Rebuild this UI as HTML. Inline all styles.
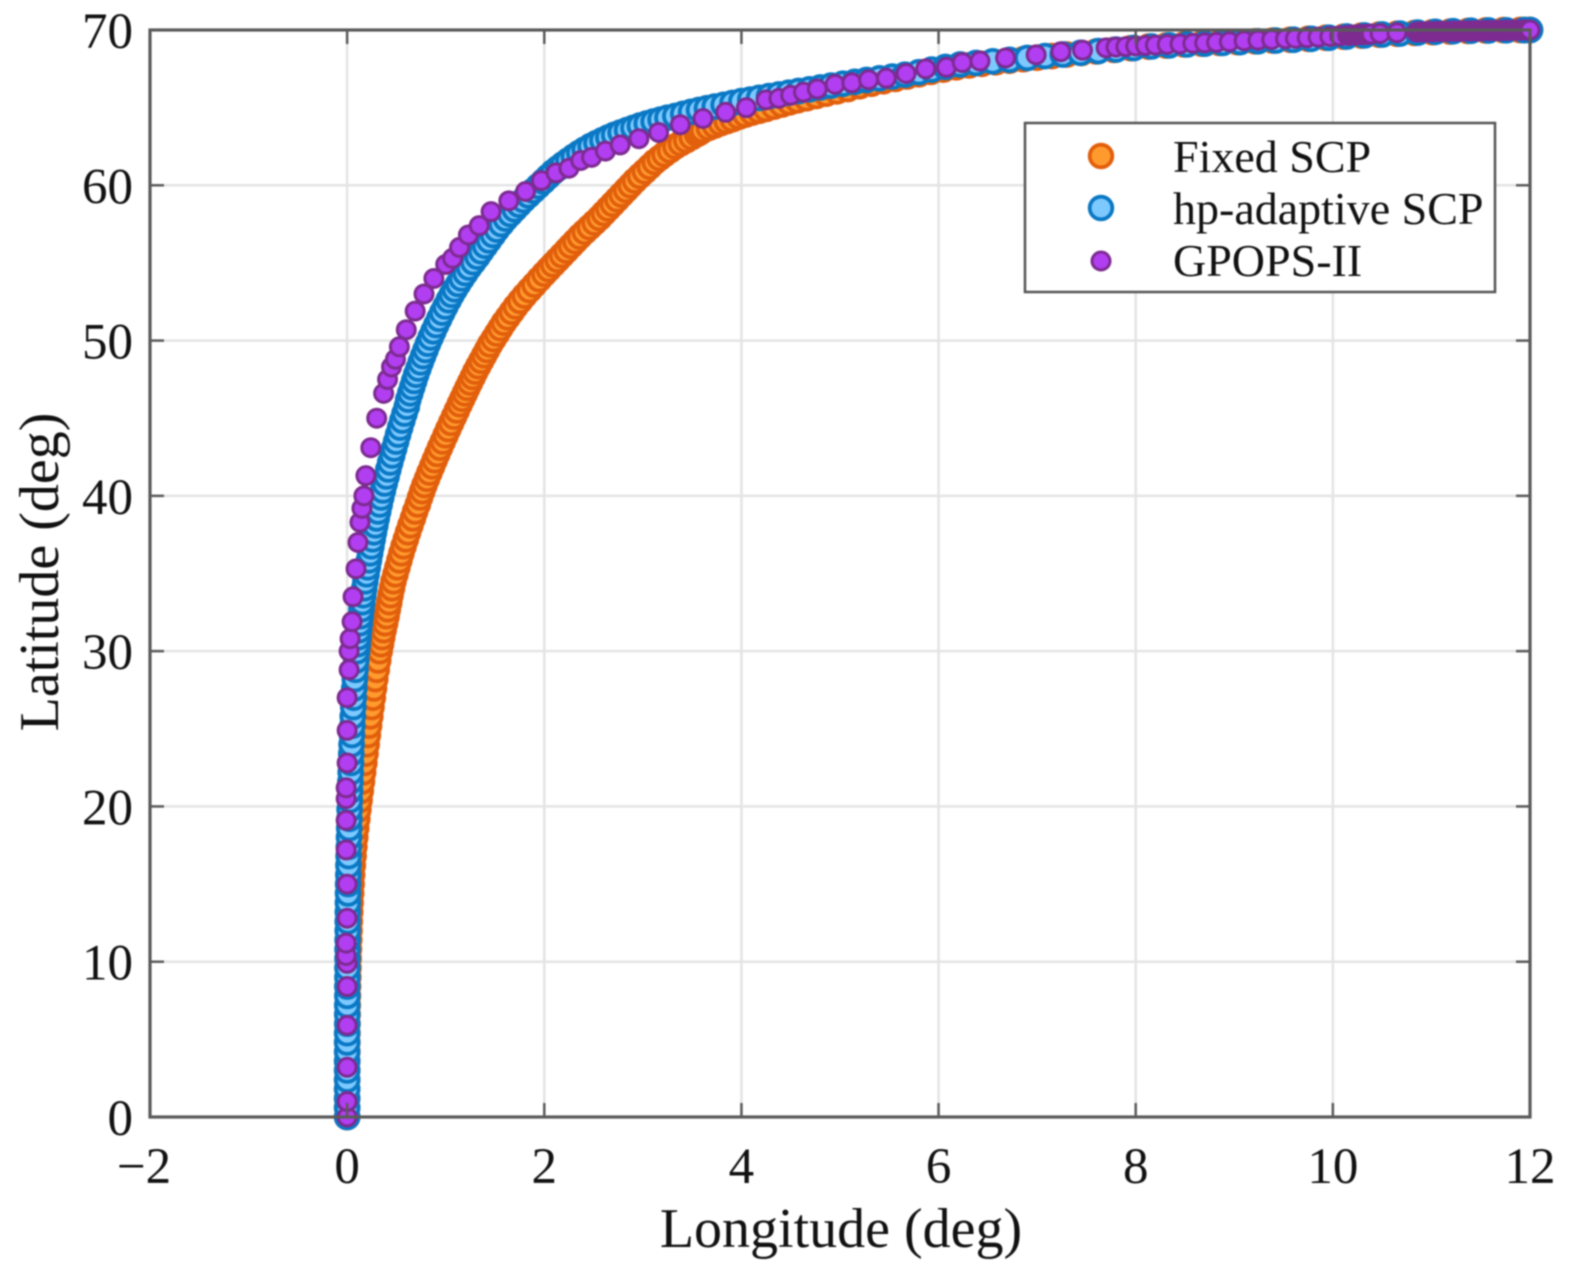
<!DOCTYPE html>
<html>
<head>
<meta charset="utf-8">
<title>Latitude vs Longitude</title>
<style>
html,body{margin:0;padding:0;background:#fff;width:1570px;height:1271px;overflow:hidden}
svg{display:block;filter:blur(0.7px)}
text{font-family:"Liberation Serif",serif;fill:#111}
</style>
</head>
<body>
<svg id="chart" xmlns="http://www.w3.org/2000/svg" width="1570" height="1271" viewBox="0 0 1570 1271">
<g id="grid"></g>
<g id="series"></g>
<g id="axes"></g>
<g id="legend">
<rect x="1025" y="123" width="470" height="169" fill="#fff" stroke="#555" stroke-width="2.5"/>
<circle cx="1101" cy="156" r="11.3" fill="#ff9a2e" stroke="#e25f0c" stroke-width="3.8"/>
<text x="1173" y="172" font-size="46">Fixed SCP</text>
<circle cx="1101" cy="208" r="11.3" fill="#7cc9ff" stroke="#0a78c4" stroke-width="3.8"/>
<text x="1173" y="224" font-size="46">hp-adaptive SCP</text>
<circle cx="1101" cy="261" r="9" fill="#b13ef0" stroke="#7d2b91" stroke-width="3"/>
<text x="1173" y="276" font-size="46">GPOPS-II</text>
</g>
</svg>
<script>
const xTickValues = [-2,0,2,4,6,8,10,12];
const yTickValues = [0,10,20,30,40,50,60,70];

const fixedLon = [0,0,0,0,0,.001,.001,.002,.002,.003,.004,.005,.006,.008,.009,.011,.013,.015,.018,.021,.024,.027,.031,.035,.04,.045,.05,.057,.065,.073,.082,.092,.103,.114,.126,.138,.15,.162,.174,.186,.198,.21,.222,.235,.247,.26,.272,.285,.30,.315,.33,.343,.356,.37,.385,.40,.413,.427,.44,.455,.47,.49,.51,.53,.55,.572,.595,.618,.642,.667,.69,.717,.74,.762,.785,.81,.835,.862,.888,.915,.942,.97,.998,1.026,1.055,1.084,1.113,1.142,1.168,1.194,1.22,1.247,1.274,1.30,1.33,1.36,1.39,1.42,1.45,1.485,1.52,1.555,1.59,1.63,1.67,1.71,1.755,1.80,1.85,1.90,1.95,2.0,2.045,2.09,2.135,2.18,2.225,2.27,2.315,2.36,2.41,2.46,2.51,2.56,2.605,2.65,2.695,2.74,2.785,2.83,2.875,2.92,2.97,3.02,3.07,3.12,3.17,3.22,3.275,3.33,3.385,3.44,3.495,3.55,3.58,3.61,3.67,3.73,3.79,3.85,3.91,3.975,4.04,4.11,4.18,4.25,4.33,4.41,4.49,4.57,4.66,4.76,4.86,4.97,5.08,5.2,5.32,5.44,5.56,5.68,5.8,5.92,6.05,6.18,6.31,6.44,6.58,6.72,6.86,7.0,7.15,7.3,7.45,7.6,7.78,7.95,8.13,8.31,8.49,8.67,8.85,9.03,9.21,9.39,9.57,9.75,9.93,10.11,10.29,10.47,10.65,10.83,11.01,11.19,11.37,11.55,11.73,11.9,11.95,12];
const fixedLat = [0,.6,1.2,1.8,2.4,3,3.6,4.2,4.8,5.4,6,6.6,7.2,7.8,8.4,9,9.6,10.2,10.8,11.4,12,12.6,13.2,13.8,14.4,15,15.6,16.2,16.8,17.4,18,18.6,19.2,19.8,20.4,21,21.6,22.2,22.8,23.4,24,24.6,25.2,25.8,26.4,27,27.6,28.2,28.8,29.4,30,30.45,30.9,31.35,31.8,32.25,32.7,33.15,33.6,34.05,34.5,34.95,35.4,35.85,36.3,36.75,37.2,37.65,38.1,38.55,39,39.45,39.9,40.3,40.7,41.1,41.5,41.9,42.3,42.7,43.1,43.5,43.9,44.3,44.7,45.1,45.5,45.9,46.25,46.6,46.95,47.3,47.65,48,48.35,48.7,49.05,49.4,49.75,50.1,50.45,50.8,51.15,51.5,51.85,52.2,52.55,52.9,53.25,53.6,53.95,54.3,54.6,54.9,55.2,55.5,55.8,56.1,56.4,56.7,57,57.3,57.6,57.9,58.2,58.5,58.8,59.1,59.4,59.7,60,60.3,60.6,60.9,61.2,61.5,61.75,62,62.25,62.5,62.7,62.9,63.1,63.3,63.4,63.55,63.7,63.85,64,64.13,64.26,64.42,64.55,64.68,64.8,64.92,65.06,65.2,65.34,65.47,65.6,65.75,65.9,66.05,66.2,66.38,66.54,66.7,66.85,67,67.15,67.3,67.45,67.6,67.72,67.82,67.92,68.02,68.12,68.22,68.32,68.42,68.52,68.62,68.72,68.83,68.93,69,69.07,69.12,69.17,69.22,69.27,69.32,69.37,69.43,69.5,69.57,69.64,69.7,69.76,69.81,69.86,69.9,69.94,69.97,69.99,70,70,70];

const hpLon = [0,0,0,0,0,0,0,0,0,0,.001,.001,.001,.002,.002,.003,.003,.004,.004,.005,.006,.006,.007,.008,.009,.01,.012,.013,.015,.017,.019,.021,.023,.025,.028,.03,.033,.036,.039,.042,.045,.049,.053,.057,.062,.067,.072,.078,.085,.092,.10,.107,.114,.121,.129,.137,.145,.154,.164,.174,.185,.197,.209,.221,.233,.246,.259,.272,.286,.30,.315,.33,.346,.363,.381,.40,.418,.437,.457,.477,.497,.517,.538,.56,.582,.605,.62,.64,.66,.68,.70,.723,.746,.77,.795,.82,.847,.875,.904,.934,.965,.997,1.03,1.06,1.092,1.127,1.162,1.2,1.238,1.28,1.322,1.36,1.40,1.44,1.48,1.52,1.565,1.61,1.655,1.70,1.745,1.79,1.84,1.89,1.94,1.99,2.04,2.09,2.14,2.19,2.245,2.30,2.355,2.41,2.47,2.53,2.59,2.65,2.71,2.775,2.84,2.905,2.97,3.04,3.11,3.18,3.25,3.33,3.41,3.49,3.57,3.65,3.73,3.82,3.91,4.0,4.09,4.18,4.28,4.38,4.48,4.58,4.69,4.8,4.91,5.03,5.15,5.27,5.4,5.53,5.66,5.8,5.93,6.07,6.22,6.38,6.55,6.72,6.9,7.08,7.26,7.44,7.62,7.8,7.98,8.16,8.34,8.52,8.7,8.88,9.06,9.24,9.42,9.6,9.78,9.96,10.14,10.32,10.5,10.68,10.86,11.04,11.22,11.4,11.58,11.76,11.94,12];
const hpLat = [0,.6,1.2,1.8,2.4,3,3.6,4.2,4.8,5.4,6,6.6,7.2,7.8,8.4,9,9.6,10.2,10.8,11.4,12,12.6,13.2,13.8,14.4,15,15.6,16.2,16.8,17.4,18,18.6,19.2,19.8,20.4,21,21.6,22.2,22.8,23.4,24,24.6,25.2,25.8,26.4,27,27.6,28.2,28.8,29.4,30,30.45,30.9,31.35,31.8,32.25,32.7,33.15,33.6,34.05,34.5,34.95,35.4,35.85,36.3,36.75,37.2,37.65,38.1,38.55,39,39.45,39.9,40.35,40.8,41.25,41.7,42.15,42.6,43.05,43.5,43.95,44.4,44.85,45.3,45.75,46.2,46.6,47,47.4,47.8,48.2,48.6,49,49.4,49.8,50.2,50.6,51,51.4,51.8,52.2,52.6,52.95,53.3,53.65,54,54.35,54.7,55.05,55.4,55.75,56.1,56.45,56.8,57.15,57.5,57.85,58.15,58.45,58.75,59.05,59.35,59.65,59.95,60.25,60.55,60.85,61.1,61.35,61.6,61.85,62.08,62.3,62.52,62.72,62.9,63.08,63.25,63.4,63.55,63.7,63.84,63.98,64.11,64.23,64.35,64.46,64.6,64.73,64.85,64.96,65.07,65.18,65.3,65.42,65.52,65.63,65.74,65.85,65.96,66.07,66.18,66.3,66.42,66.54,66.66,66.78,66.89,67,67.12,67.28,67.45,67.62,67.78,67.88,67.98,68.08,68.2,68.32,68.42,68.53,68.64,68.74,68.84,68.94,69.01,69.07,69.12,69.17,69.22,69.27,69.32,69.37,69.43,69.5,69.58,69.65,69.71,69.77,69.83,69.88,69.92,69.95,69.97,69.98,69.99,70,70];

const gpopsLon = [0,0,0,0,0,0,-.01,-.01,0,0,-.01,-.01,-.01,-.01,0,0,0,.02,.02,.03,.05,.06,.09,.11,.13,.15,.17,.19,.24,.30,.37,.41,.45,.49,.53,.60,.69,.78,.88,1.00,1.07,1.14,1.23,1.34,1.46,1.64,1.81,1.97,2.12,2.25,2.37,2.48,2.62,2.77,2.96,3.16,3.38,3.61,3.84,4.05,4.25,4.38,4.50,4.63,4.77,4.95,5.12,5.29,5.47,5.67,5.87,6.08,6.24,6.42,6.68,6.99,7.24,7.46,7.7,7.8,7.9,8.0,8.1,8.2,8.32,8.45,8.58,8.7,8.82,8.95,9.1,9.24,9.38,9.52,9.62,9.74,9.85,9.97,10.07,10.15,10.17,10.19,10.21,10.23,10.25,10.27,10.29,10.31,10.33,10.35,10.37,10.39,10.48,10.65,10.85,10.88,10.9,10.92,10.94,10.96,10.98,11,11.02,11.04,11.06,11.08,11.1,11.12,11.14,11.16,11.18,11.2,11.22,11.24,11.26,11.28,11.3,11.32,11.34,11.36,11.38,11.4,11.42,11.44,11.46,11.48,11.5,11.52,11.54,11.56,11.58,11.6,11.62,11.64,11.66,11.68,11.7,11.72,11.74,11.76,11.78,11.8,11.82,11.84,11.86,11.88,11.9,11.92,11.94,11.96,11.98,12];
const gpopsLat = [0,1.0,3.2,5.9,8.4,9.9,10.4,11.2,12.8,15.0,17.2,19.1,20.5,21.2,22.8,24.9,27.0,28.8,30.0,30.8,31.9,33.5,35.3,37.0,38.3,39.2,40.0,41.3,43.1,45.0,46.6,47.5,48.3,48.8,49.6,50.7,51.9,53.0,54.0,54.9,55.3,56.0,56.8,57.4,58.3,59.0,59.6,60.3,60.8,61.1,61.6,61.8,62.2,62.6,63.0,63.4,63.9,64.3,64.7,65.0,65.5,65.6,65.8,66.0,66.2,66.5,66.6,66.8,66.9,67.2,67.5,67.6,67.9,68.0,68.2,68.4,68.6,68.7,68.85,68.9,68.93,68.97,69.0,69.03,69.07,69.1,69.14,69.17,69.2,69.24,69.3,69.34,69.38,69.43,69.46,69.5,69.54,69.58,69.62,69.65,69.66,69.67,69.67,69.68,69.69,69.7,69.7,69.71,69.72,69.72,69.73,69.74,69.77,69.82,69.87,69.88,69.88,69.88,69.88,69.89,69.89,69.89,69.89,69.9,69.9,69.9,69.9,69.91,69.91,69.91,69.91,69.92,69.92,69.92,69.92,69.93,69.93,69.93,69.93,69.94,69.94,69.94,69.94,69.95,69.95,69.95,69.95,69.95,69.96,69.96,69.96,69.96,69.96,69.97,69.97,69.97,69.97,69.97,69.98,69.98,69.98,69.98,69.98,69.99,69.99,69.99,69.99,69.99,70,70,70,70];

const NS = "http://www.w3.org/2000/svg";
const plotLeft = 150, plotRight = 1530, plotTop = 30, plotBottom = 1117;
function xScale(v){ return plotLeft + (v + 2) / 14 * (plotRight - plotLeft); }
function yScale(v){ return plotBottom - v / 70 * (plotBottom - plotTop); }

function line(parent, x1, y1, x2, y2, color, width){
  const el = document.createElementNS(NS, "line");
  el.setAttribute("x1", x1); el.setAttribute("y1", y1);
  el.setAttribute("x2", x2); el.setAttribute("y2", y2);
  el.setAttribute("stroke", color); el.setAttribute("stroke-width", width);
  parent.appendChild(el);
  return el;
}
function label(parent, x, y, str, anchor, size){
  const el = document.createElementNS(NS, "text");
  el.setAttribute("x", x); el.setAttribute("y", y);
  el.setAttribute("text-anchor", anchor); el.setAttribute("font-size", size);
  el.textContent = str;
  parent.appendChild(el);
  return el;
}

const gridG = document.getElementById("grid");
const axesG = document.getElementById("axes");
const seriesG = document.getElementById("series");
const gridColor = "#e4e4e4", axisColor = "#5a5a5a";

xTickValues.forEach(function(v){
  const x = xScale(v);
  const g = line(gridG, x, plotTop, x, plotBottom, gridColor, 2.5);
  
  
  const t1 = line(axesG, x, plotBottom, x, plotBottom - 14, axisColor, 2.5);
  
  
  const t2 = line(axesG, x, plotTop, x, plotTop + 14, axisColor, 2.5);
  
  
  const tl = label(axesG, v < 0 ? x - 6 : x, 1183, String(v).replace("-", "\u2212"), "middle", 51);
  
  
});
yTickValues.forEach(function(v){
  const y = yScale(v);
  const g = line(gridG, plotLeft, y, plotRight, y, gridColor, 2.5);
  
  
  const t1 = line(axesG, plotLeft, y, plotLeft + 14, y, axisColor, 2.5);
  
  
  const t2 = line(axesG, plotRight, y, plotRight - 14, y, axisColor, 2.5);
  
  
  const tl = label(axesG, 133, y + 18, String(v), "end", 51);
  
  
});

const box = document.createElementNS(NS, "rect");
box.setAttribute("x", plotLeft); box.setAttribute("y", plotTop);
box.setAttribute("width", plotRight - plotLeft); box.setAttribute("height", plotBottom - plotTop);
box.setAttribute("fill", "none"); box.setAttribute("stroke", axisColor); box.setAttribute("stroke-width", 3.2);


axesG.appendChild(box);

const xTitle = label(axesG, 841, 1247, "Longitude (deg)", "middle", 56);


const yTitle = label(axesG, 0, 0, "Latitude (deg)", "middle", 56);
yTitle.setAttribute("transform", "translate(58,572) rotate(-90)");



function drawSeries(name, lons, lats, r, sw, fill, stroke){
  const g = document.createElementNS(NS, "g");
  
  
  seriesG.appendChild(g);
  const n = Math.min(lons.length, lats.length);
  for (let i = 0; i < n; i++){
    const c = document.createElementNS(NS, "circle");
    c.setAttribute("cx", xScale(lons[i]));
    c.setAttribute("cy", yScale(lats[i]));
    c.setAttribute("r", r);
    c.setAttribute("fill", fill);
    c.setAttribute("stroke", stroke);
    c.setAttribute("stroke-width", sw);
    
    
    g.appendChild(c);
  }
}
drawSeries("series-fixed-scp", fixedLon, fixedLat, 11.4, 3.9, "#ff9a2e", "#e25f0c");
drawSeries("series-hp-adaptive-scp", hpLon, hpLat, 11.4, 3.9, "#7cc9ff", "#0a78c4");
drawSeries("series-gpops-ii", gpopsLon, gpopsLat, 9, 3, "#b13ef0", "#7d2b91");
</script>
</body>
</html>
